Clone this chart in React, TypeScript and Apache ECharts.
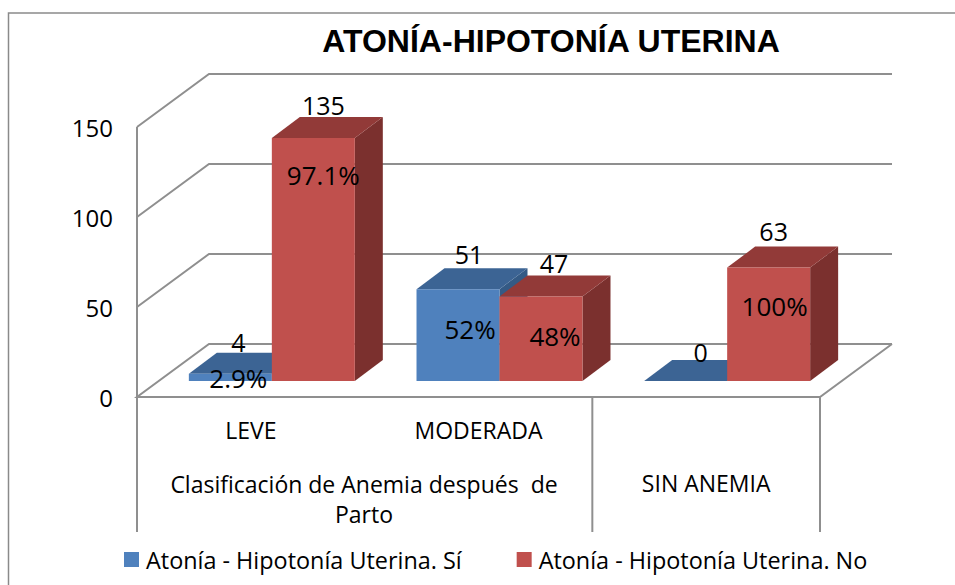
import React, { useEffect, useRef } from "react";
import * as echarts from "echarts";

const TITLE = "ATONÍA-HIPOTONÍA UTERINA";
const categories = ["LEVE", "MODERADA", "SIN ANEMIA"];
const groupLabel = "Clasificación de Anemia después  de\nParto";
const seriesSiName = "Atonía - Hipotonía Uterina. Sí";
const seriesNoName = "Atonía - Hipotonía Uterina. No";
const valuesSi = [4, 51, 0];
const valuesNo = [135, 47, 63];
const percentSi = ["2.9%", "52%", ""];
const percentNo = ["97.1%", "48%", "100%"];
const yTicks = [0, 50, 100, 150];
const separators = [0, 2, 3];

// layout of the drawn 3D box
const DX = 72, DY = 53;           // depth of the floor
const BDX = 28, BDY = 21;         // depth of a bar
const SHIFT_X = 21, SHIFT_Y = 16; // bars stand part-way back on the floor
const BAR_RATIO = 0.3645;
const FONT = "'Open Sans', sans-serif";
const LINE = "#8f8f8f";

// hand placement of labels, as in the reference: [dx, dy]
const valueNudgeSi = [[8, -11], [11, -14], [15, -8]];
const valueNudgeNo = [[10, -12], [13, -12], [5, -16]];
const pctNudgeSi = [[8, 4], [12, 40], [0, 0]];
const pctNudgeNo = [[10, 37], [14, 40], [6, 38]];

const palette = {
  si: { front: "#4f81bd", top: "#3c6494", side: "#345a85" },
  no: { front: "#c0504d", top: "#923a38", side: "#7b302e" },
};

function barRenderer(
  side: number,
  colors: { front: string; top: string; side: string },
  pct: string[],
  vNudge: number[][],
  pNudge: number[][]
) {
  return (params: any, api: any) => {
    const i = api.value(0);
    const v = api.value(1);
    const [cx, yTop] = api.coord([i, v]);
    const [, yZero] = api.coord([i, 0]);
    const w = api.size([1, 0])[0] * BAR_RATIO;
    const anchor = cx + SHIFT_X;
    const x0 = side < 0 ? anchor - w : anchor;
    const x1 = x0 + w;
    const t = yTop - SHIFT_Y;
    const b = yZero - SHIFT_Y;
    const children: any[] = [
      {
        type: "polygon",
        shape: { points: [[x1, t], [x1 + BDX, t - BDY], [x1 + BDX, b - BDY], [x1, b]] },
        style: { fill: colors.side },
      },
      {
        type: "polygon",
        shape: { points: [[x0, t], [x0 + BDX, t - BDY], [x1 + BDX, t - BDY], [x1, t]] },
        style: { fill: colors.top },
      },
      { type: "rect", shape: { x: x0, y: t, width: w, height: b - t }, style: { fill: colors.front } },
      {
        type: "text",
        x: (x0 + x1) / 2 + vNudge[i][0],
        y: t - BDY + vNudge[i][1],
        style: { text: String(v), fill: "#000", font: `25px ${FONT}`, align: "center", verticalAlign: "middle" },
      },
    ];
    if (pct[i]) {
      children.push({
        type: "text",
        x: (x0 + x1) / 2 + pNudge[i][0],
        y: t + pNudge[i][1],
        style: { text: pct[i], fill: "#000", font: `26px ${FONT}`, align: "center", verticalAlign: "middle" },
      });
    }
    return { type: "group", children };
  };
}

function renderWall(params: any, api: any) {
  const v = api.value(0);
  const half = api.size([1, 0])[0] / 2;
  const [cLeft, y] = api.coord([0, v]);
  const [cRight] = api.coord([categories.length - 1, v]);
  const l = cLeft - half;
  const r = cRight + half;
  const points =
    v === 0
      ? [[r + DX, y - DY], [r, y], [l, y], [l + DX, y - DY], [r + DX, y - DY]]
      : [[l, y], [l + DX, y - DY], [r + DX, y - DY]];
  return {
    type: "polyline",
    shape: { points },
    style: { stroke: LINE, lineWidth: 2, fill: "none" },
  };
}

function renderSeparator(params: any, api: any) {
  const boundary = api.value(0);
  const half = api.size([1, 0])[0] / 2;
  const [cx, y0] = api.coord([0, 0]);
  const [, yMax] = api.coord([0, 150]);
  const x = cx - half + boundary * half * 2;
  const top = boundary === 0 ? yMax : y0;
  return {
    type: "line",
    shape: { x1: x, y1: top, x2: x, y2: y0 + 135 },
    style: { stroke: LINE, lineWidth: 2 },
  };
}

export default function App() {
  const ref = useRef<HTMLDivElement>(null);
  useEffect(() => {
    const chart = echarts.init(ref.current!, undefined, { renderer: "svg" });
    chart.setOption({
      animation: false,
      backgroundColor: "#ffffff",
      color: [palette.si.front, palette.no.front],
      title: {
        text: TITLE,
        left: 546,
        top: 20,
        textAlign: "center",
        textStyle: { fontFamily: "'Liberation Sans', Arial, sans-serif", fontWeight: "bold", fontSize: 32, color: "#000" },
      },
      legend: {
        data: [seriesSiName, seriesNoName],
        left: 119,
        top: 543,
        icon: "rect",
        itemWidth: 15,
        itemHeight: 15,
        itemGap: 55,
        textStyle: { fontFamily: FONT, fontSize: 23.4, color: "#000", padding: [0, 0, 0, 2] },
      },
      grid: { left: 137, top: 127, width: 683, height: 270 },
      xAxis: {
        type: "category",
        data: categories,
        axisLine: { show: false },
        axisTick: { show: false },
        axisLabel: {
          margin: 21,
          fontFamily: FONT,
          fontSize: 23,
          color: "#000",
          interval: 0,
          formatter: (v: string, i: number) => (i === 2 ? `{low|${v}}` : v),
          rich: { low: { fontFamily: FONT, fontSize: 23, color: "#000", padding: [53, 0, 0, 0] } },
        },
      },
      yAxis: {
        type: "value",
        min: 0,
        max: 150,
        interval: 50,
        axisLine: { show: false },
        axisTick: { show: false },
        splitLine: { show: false },
        axisLabel: { margin: 24, fontFamily: FONT, fontSize: 24, color: "#000" },
      },
      graphic: [
        {
          type: "polyline",
          silent: true,
          shape: { points: [[8.5, 585], [8.5, 13], [955, 13]] },
          style: { stroke: "#8a8a8a", lineWidth: 1.5, fill: "none" },
        },
        {
          type: "text",
          x: 364,
          y: 499,
          silent: true,
          style: {
            text: groupLabel,
            fill: "#000",
            font: `23px ${FONT}`,
            lineHeight: 30,
            align: "center",
            verticalAlign: "middle",
          },
        },
      ],
      series: [
        {
          name: seriesSiName,
          type: "custom",
          z: 3,
          data: valuesSi.map((v, i) => [i, v]),
          encode: { x: 0, y: 1 },
          renderItem: barRenderer(-1, palette.si, percentSi, valueNudgeSi, pctNudgeSi),
        },
        {
          name: seriesNoName,
          type: "custom",
          z: 4,
          data: valuesNo.map((v, i) => [i, v]),
          encode: { x: 0, y: 1 },
          renderItem: barRenderer(1, palette.no, percentNo, valueNudgeNo, pctNudgeNo),
        },
        {
          name: "walls",
          type: "custom",
          z: 1,
          silent: true,
          data: yTicks.map((v) => [v]),
          encode: { y: 0 },
          renderItem: renderWall,
        },
        {
          name: "separators",
          type: "custom",
          z: 1,
          silent: true,
          data: separators.map((v) => [v]),
          renderItem: renderSeparator,
        },
      ],
    });
    return () => chart.dispose();
  }, []);
  return <div ref={ref} style={{ position: "fixed", left: 0, top: 0, width: 955, height: 585 }} />;
}
